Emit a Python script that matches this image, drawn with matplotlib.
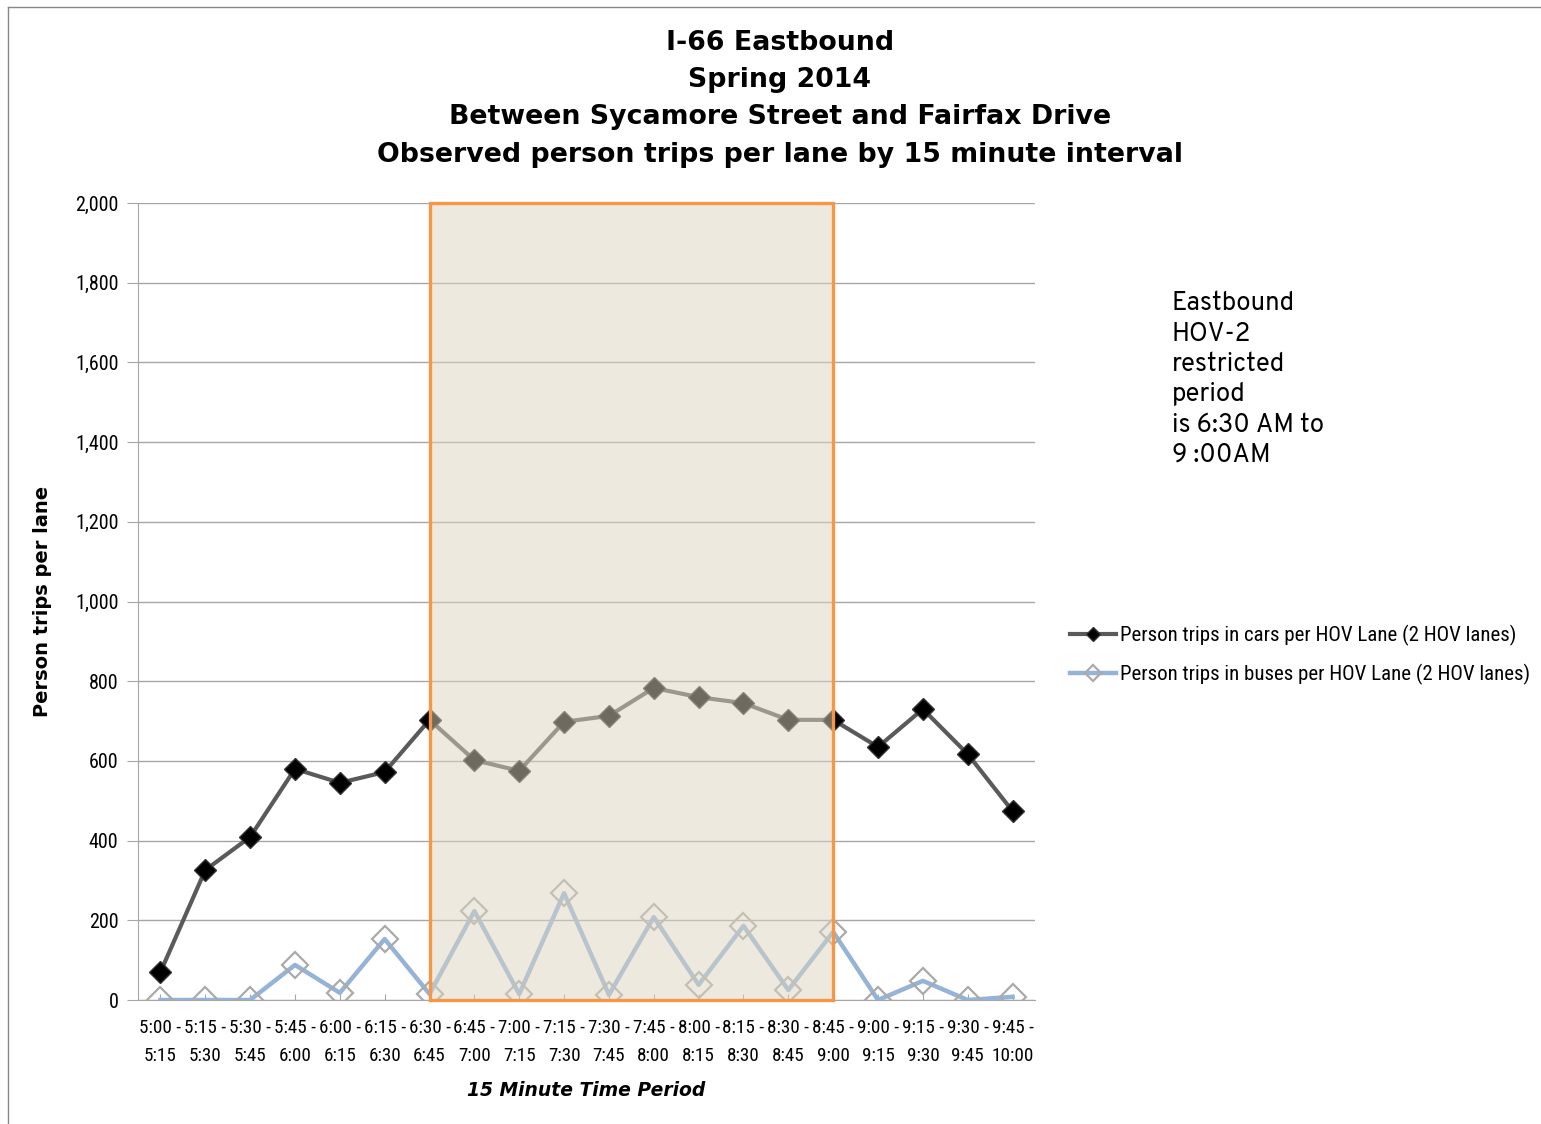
import matplotlib
matplotlib.use("Agg")
import matplotlib.pyplot as plt
from matplotlib.patches import Rectangle
from matplotlib.lines import Line2D

periods = ["5:00 -\n5:15", "5:15 -\n5:30", "5:30 -\n5:45", "5:45 -\n6:00", "6:00 -\n6:15",
           "6:15 -\n6:30", "6:30 -\n6:45", "6:45 -\n7:00", "7:00 -\n7:15", "7:15 -\n7:30",
           "7:30 -\n7:45", "7:45 -\n8:00", "8:00 -\n8:15", "8:15 -\n8:30", "8:30 -\n8:45",
           "8:45 -\n9:00", "9:00 -\n9:15", "9:15 -\n9:30", "9:30 -\n9:45", "9:45 -\n10:00"]
cars = [70, 326, 409, 580, 545, 572, 703, 602, 575, 698,
        713, 783, 760, 745, 703, 703, 635, 730, 617, 474]
buses = [0, 0, 0, 88, 18, 153, 15, 223, 15, 268,
         13, 208, 38, 186, 25, 171, 0, 48, 0, 8]
hov_start = "6:30 -\n6:45"
hov_end = "8:45 -\n9:00"
yticks = [0, 200, 400, 600, 800, 1000, 1200, 1400, 1600, 1800, 2000]

narrow = ["Roboto Condensed", "DejaVu Sans"]
wide = ["Overpass", "DejaVu Sans"]

fig = plt.figure(figsize=(15.41, 11.24), dpi=100)
ax = fig.add_axes([138 / 1541, 1 - 1000 / 1124, 897 / 1541, 797 / 1124])

x = list(range(len(periods)))
ax.plot(x, cars, color="#5a5a5a", lw=3, marker="D", ms=11.5,
        mfc="black", mec="#333333", mew=1, zorder=3,
        label="Person trips in cars per HOV Lane (2 HOV lanes)")
ax.plot(x, buses, color="#95b3d7", lw=3.2, marker="D", ms=13,
        mfc="none", mec="#aaaaaa", mew=1.6, zorder=3,
        label="Person trips in buses per HOV Lane (2 HOV lanes)")

i0 = periods.index(hov_start)
i1 = periods.index(hov_end)
ax.add_patch(Rectangle((i0, 0), i1 - i0, max(yticks),
                       facecolor=(220 / 255, 213 / 255, 193 / 255, 0.5),
                       edgecolor="#f79646", lw=2.4, zorder=4, clip_on=False))

ax.set_xlim(-0.5, len(periods) - 0.5)
ax.set_ylim(0, max(yticks))
ax.set_yticks(yticks)
ax.set_yticklabels([f"{v:,}" for v in yticks], family=narrow, fontsize=14.5)
ax.set_xticks(x)
ax.set_xticklabels(periods, family=narrow, fontsize=13.8, linespacing=1.7)
ax.grid(axis="y", color="#a6a6a6", lw=1)
ax.set_axisbelow(True)
for s in ["top", "right"]:
    ax.spines[s].set_visible(False)
ax.spines["left"].set_color("#a6a6a6")
ax.spines["bottom"].set_color("#a6a6a6")
ax.tick_params(axis="y", length=8, color="#a6a6a6", pad=6)
ax.tick_params(axis="x", direction="in", length=4, color="#a6a6a6", pad=14)

ax.set_ylabel("Person trips per lane", fontsize=14, fontweight="bold")
ax.yaxis.set_label_coords((52 - 138) / 897, 0.5)
ax.set_xlabel("15 Minute Time Period", fontsize=13.5, fontweight="bold",
              style="italic", labelpad=11)

fig.text(780 / 1541, 1 - 30 / 1124,
         "I-66 Eastbound\nSpring 2014\nBetween Sycamore Street and Fairfax Drive\n"
         "Observed person trips per lane by 15 minute interval",
         ha="center", va="top", fontsize=19.3, fontweight="bold", linespacing=1.56)

fig.text(1172 / 1541, 1 - 291 / 1124,
         "Eastbound\nHOV-2\nrestricted\nperiod\nis 6:30 AM to\n9 :00AM",
         ha="left", va="top", family=wide, fontsize=18.5, linespacing=1.3)

ax.legend(loc="center left", bbox_to_anchor=(913 / 897, 0.433), frameon=False,
          prop={"family": narrow, "size": 15}, handlelength=2.2,
          handletextpad=0.2, labelspacing=0.9, markerscale=0.6)

fig.add_artist(Line2D([8 / 1541, 8 / 1541], [0, 1 - 7 / 1124], color="#888888", lw=1))
fig.add_artist(Line2D([8 / 1541, 1], [1 - 7 / 1124, 1 - 7 / 1124], color="#888888", lw=1))

fig.savefig("out.png", dpi=100, facecolor="white")
